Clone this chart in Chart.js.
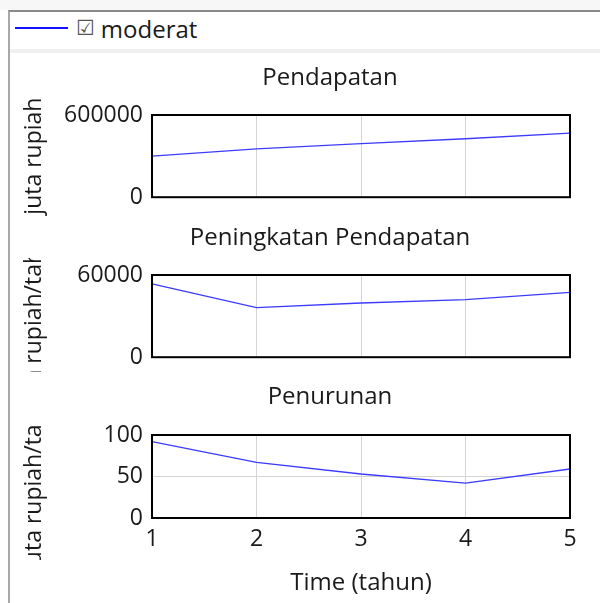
<!DOCTYPE html>
<html lang="id">
<head>
  <meta charset="UTF-8">
  <title>Pendapatan • moderat</title>
  <script src="https://cdn.jsdelivr.net/npm/chart.js"></script>
  <style>
    body {
      margin: 0; width: 600px; height: 603px; overflow: hidden;
      background: #fff; position: relative;
      font-family: 'Open Sans', sans-serif;
    }
    #topbar { position: absolute; left: 0; top: 0; width: 600px; height: 10px; background: #f7f7f7; }
    #frame {
      position: absolute; left: 8px; top: 10px; width: 592px; height: 593px;
      border-left: 2px solid #a8a8a8; border-top: 2px solid #8a8a8a; box-sizing: border-box;
    }
    #legend {
      position: absolute; left: 15px; top: 11px; height: 34px;
      display: flex; align-items: center; font-size: 24px; color: #1a1a1a;
    }
    #legend .swatch { width: 53px; height: 2px; background: #1010ff; margin-right: 8px; }
    #legend .box { font-family: 'DejaVu Sans', sans-serif; font-size: 21px; color: #555; margin-right: 6px; }
    #sep { position: absolute; left: 10px; top: 49px; width: 590px; height: 4px; background: #f0f0f0; }
    canvas { position: absolute; left: 10px; }
  </style>
</head>
<body>
  <div id="topbar"></div>
  <div id="frame"></div>
  <div id="legend"><span class="swatch"></span><span class="box">☑</span><span>moderat</span></div>
  <div id="sep"></div>

  <canvas id="c1" width="640" height="162" style="top:58px"></canvas>
  <canvas id="c2" width="640" height="160" style="top:220px"></canvas>
  <canvas id="c3" width="640" height="223" style="top:380px"></canvas>

  <script>
    // data (tahun 1-5, skenario moderat)
    const tahun       = [1, 2, 3, 4, 5];
    const pendapatan  = [300000, 353000, 391000, 427000, 468000];
    const peningkatan = [53500, 36200, 39600, 42000, 47300];
    const penurunan   = [92, 67, 53, 42, 59];

    const yTicks1 = [0, 600000];
    const yTicks2 = [0, 60000];
    const yTicks3 = [0, 50, 100];

    Chart.defaults.font.family = "'Open Sans', sans-serif";
    Chart.defaults.font.size = 23;
    Chart.defaults.color = '#1a1a1a';

    // clip the rotated y title + draw the black plot frame
    const panelPlugin = {
      id: 'panel',
      beforeDraw(chart, args, opts) {
        const ctx = chart.ctx;
        ctx.save();
        if (opts.clipY) {
          ctx.beginPath();
          ctx.rect(48, 0, chart.width - 48, chart.height);
          ctx.rect(0, opts.clipY[0], 48, opts.clipY[1] - opts.clipY[0]);
          ctx.clip();
        }
      },
      afterDatasetsDraw(chart) {
        const a = chart.chartArea, ctx = chart.ctx;
        ctx.save();
        ctx.strokeStyle = '#000';
        ctx.lineWidth = 2;
        ctx.strokeRect(a.left, a.top, a.right - a.left, a.bottom - a.top);
        ctx.restore();
      },
      afterDraw(chart) { chart.ctx.restore(); }
    };

    function panel(id, title, values, yTicks, yTitle, o) {
      return new Chart(document.getElementById(id), {
        type: 'line',
        data: {
          labels: tahun,
          datasets: [{ data: values, borderColor: '#3c3cff', borderWidth: 1.4, pointRadius: 0, tension: 0 }]
        },
        options: {
          responsive: false,
          animation: false,
          events: [],
          layout: { padding: 0 },
          plugins: {
            legend: { display: false },
            tooltip: { enabled: false },
            title: { display: true, text: title, font: { size: 24, weight: 'normal' }, padding: o.titlePad },
            panel: { clipY: o.clipY }
          },
          scales: {
            x: {
              grid: { color: '#d4d4d4', drawTicks: false },
              border: { display: false },
              ticks: { display: !!o.xTitle, padding: 8, maxRotation: 0 },
              title: { display: !!o.xTitle, text: o.xTitle || '', font: { size: 24 }, padding: { top: 0, bottom: 5.6 } },
              afterFit: s => { s.height = o.xHeight; }
            },
            y: {
              min: yTicks[0], max: yTicks[yTicks.length - 1],
              grid: { display: o.yGrid, color: '#d4d4d4', drawTicks: false },
              border: { display: false },
              afterBuildTicks: s => { s.ticks = yTicks.map(v => ({ value: v })); },
              ticks: { padding: 9, callback: v => String(v) },
              title: { display: true, text: yTitle, padding: { top: 11, bottom: 0 } },
              afterFit: s => { s.width = 142; }
            },
            y2: {
              position: 'right',
              display: true,
              grid: { display: false },
              border: { display: false },
              ticks: { display: false },
              afterFit: s => { s.width = 80; }
            }
          }
        },
        plugins: [panelPlugin]
      });
    }

    panel('c1', 'Pendapatan', pendapatan, yTicks1, 'juta rupiah',
      { titlePad: { top: 5.6, bottom: 22.6 }, xHeight: 22, yGrid: false, clipY: null });
    panel('c2', 'Peningkatan Pendapatan', peningkatan, yTicks2, 'juta rupiah/tahun',
      { titlePad: { top: 3.6, bottom: 22.6 }, xHeight: 22, yGrid: false, clipY: [38, 152] });
    panel('c3', 'Penurunan', penurunan, yTicks3, 'juta rupiah/tahun',
      { titlePad: { top: 2.6, bottom: 23.6 }, xHeight: 85, yGrid: true, clipY: [45, 180], xTitle: 'Time (tahun)' });
  </script>
</body>
</html>
